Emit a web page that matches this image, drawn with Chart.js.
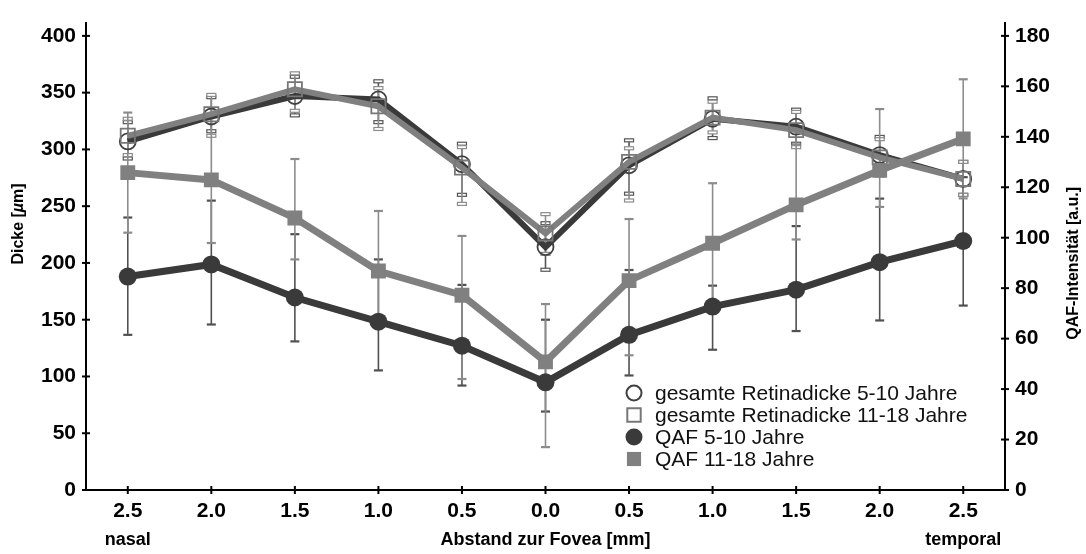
<!DOCTYPE html>
<html><head><meta charset="utf-8">
<script src="https://cdn.jsdelivr.net/npm/chart.js@4.4.1/dist/chart.umd.min.js"></script>
<style>html,body{margin:0;padding:0;background:#fff}#wrap{width:1086px;height:554px}</style>
</head><body><div id="wrap"><canvas id="c" width="1086" height="554"></canvas></div>
<script>
// Distance to fovea (nasal -> temporal)
const positions = ['2.5','2.0','1.5','1.0','0.5','0.0','0.5','1.0','1.5','2.0','2.5'];
const thicknessTicks = [0,50,100,150,200,250,300,350,400];
const intensityTicks = [0,20,40,60,80,100,120,140,160,180];

// gesamte Retinadicke 5-10 Jahre (µm, left axis)
const retina510   = [307, 329, 347, 344, 287, 214, 286, 327, 320, 295, 274];
const retina510Hi = [324, 346, 364, 360, 305, 235, 308, 345, 335, 311, 289];
const retina510Lo = [292, 316, 330, 324, 260, 194, 261, 310, 305, 279, 260];
// gesamte Retinadicke 11-18 Jahre
const retina1118   = [312, 331, 353, 338, 284, 226, 289, 328, 317, 293, 274];
const retina1118Hi = [327, 348, 367, 354, 302, 243, 301, 342, 333, 309, 289];
const retina1118Lo = [295, 312, 334, 318, 252, 208, 255, 315, 302, 277, 260];
// QAF 5-10 Jahre (a.u., right axis)
const qaf510   = [84.6, 89.4, 76.3, 66.7, 57.2, 42.7, 61.5, 72.7, 79.4, 90.3, 98.7];
const qaf510Hi = [108, 114.7, 101.4, 91.4, 81.3, 67.5, 87.2, 81, 104.6, 115.5, 124];
const qaf510Lo = [61.5, 65.6, 58.9, 47.4, 41.4, 31.1, 45.4, 55.6, 63, 67.2, 73.1];
// QAF 11-18 Jahre
const qaf1118   = [125.8, 122.9, 107.8, 86.8, 77.2, 50.8, 83.0, 97.8, 113, 126.7, 139.2];
const qaf1118Hi = [149.6, 147.9, 131.2, 110.6, 100.7, 73.7, 107.4, 121.6, 137, 151, 162.8];
const qaf1118Lo = [102, 97.9, 91.4, 68, 44, 17, 53.4, 74, 99.3, 112.2, 115.6];

const FONT = "'Liberation Sans', Arial, Helvetica, sans-serif";
const DARK = '#3a3a3a';
const GRAY = '#808080';
const Y_MAX = 411.7;
const Y2_MAX = Y_MAX * 180 / 400;

const errorBars = {
  id: 'errorBars',
  beforeDatasetsDraw(chart) {
    const ctx = chart.ctx;
    chart.data.datasets.forEach((ds, i) => {
      const meta = chart.getDatasetMeta(i);
      const ys = chart.scales[ds.yAxisID];
      ctx.save();
      ctx.strokeStyle = ds.errColor;
      ds.data.forEach((v, j) => {
        const px = meta.data[j].x;
        const top = ys.getPixelForValue(ds.hi[j]);
        const bot = ys.getPixelForValue(ds.lo[j]);
        ctx.lineWidth = 1.6;
        ctx.beginPath(); ctx.moveTo(px, top); ctx.lineTo(px, bot); ctx.stroke();
        [top, bot].forEach(py => {
          if (ds.capRect) {
            ctx.lineWidth = 1.2;
            ctx.fillStyle = '#fff';
            ctx.fillRect(px - 4.5, py - 1.5, 9, 3);
            ctx.strokeRect(px - 4.5, py - 1.5, 9, 3);
          } else {
            ctx.lineWidth = 2.2;
            ctx.beginPath(); ctx.moveTo(px - 4.5, py); ctx.lineTo(px + 4.5, py); ctx.stroke();
          }
        });
      });
      ctx.restore();
    });
  }
};

const decor = {
  id: 'decor',
  afterDraw(chart) {
    const {ctx, chartArea: ca} = chart;
    const {x, y, y2} = chart.scales;
    ctx.save();
    ctx.strokeStyle = '#000';
    ctx.lineWidth = 2;
    // crossing tick marks
    y.ticks.forEach(t => {
      const py = y.getPixelForValue(t.value);
      ctx.beginPath(); ctx.moveTo(ca.left - 4, py); ctx.lineTo(ca.left + 4, py); ctx.stroke();
    });
    y2.ticks.forEach(t => {
      const py = y2.getPixelForValue(t.value);
      ctx.beginPath(); ctx.moveTo(ca.right - 4, py); ctx.lineTo(ca.right + 4, py); ctx.stroke();
    });
    x.ticks.forEach((t, i) => {
      const px = x.getPixelForTick(i);
      ctx.beginPath(); ctx.moveTo(px, ca.bottom - 4); ctx.lineTo(px, ca.bottom + 4); ctx.stroke();
    });
    // texts
    ctx.fillStyle = '#000';
    ctx.textAlign = 'center';
    ctx.textBaseline = 'middle';
    ctx.font = 'bold 18px ' + FONT;
    const ty = ca.bottom + 50;
    ctx.fillText('Abstand zur Fovea [mm]', (ca.left + ca.right) / 2, ty);
    ctx.fillText('nasal', x.getPixelForTick(0), ty);
    ctx.fillText('temporal', x.getPixelForTick(positions.length - 1), ty);

    // left title, rotated
    ctx.save();
    ctx.translate(19, 224);
    ctx.rotate(-Math.PI / 2);
    const parts = [['Dicke [', 'bold 16px ' + FONT], ['\u00b5', 'italic bold 16px ' + FONT], ['m]', 'bold 16px ' + FONT]];
    let total = 0;
    parts.forEach(p => { ctx.font = p[1]; total += ctx.measureText(p[0]).width; });
    let cx = -total / 2;
    ctx.textAlign = 'left';
    parts.forEach(p => { ctx.font = p[1]; ctx.fillText(p[0], cx, 0); cx += ctx.measureText(p[0]).width; });
    ctx.restore();

    // right title, rotated (reads bottom to top)
    ctx.save();
    ctx.translate(1074, (ca.top + ca.bottom) / 2 + 7);
    ctx.rotate(-Math.PI / 2);
    ctx.font = 'bold 16px ' + FONT;
    ctx.fillText('QAF-Intensit\u00e4t [a.u.]', 0, 0);
    ctx.restore();

    // legend
    const lx = 634, ly0 = 393, step = 22;
    chart.data.datasets.forEach((ds, i) => {
      const yy = ly0 + i * step;
      ctx.save();
      ctx.fillStyle = ds.legendFill;
      ctx.strokeStyle = ds.pointBorderColor;
      Chart.helpers.drawPoint(ctx, {
        pointStyle: ds.pointStyle,
        radius: ds.legendRadius,
        borderWidth: ds.legendBorder,
        rotation: 0
      }, lx, yy);
      ctx.restore();
      ctx.fillStyle = '#111';
      ctx.font = '21px ' + FONT;
      ctx.textAlign = 'left';
      ctx.fillText(ds.label, 655, yy + 1);
    });
    ctx.restore();
  }
};

new Chart(document.getElementById('c'), {
  type: 'line',
  data: {
    labels: positions,
    datasets: [
      {
        label: 'gesamte Retinadicke 5-10 Jahre', data: retina510, hi: retina510Hi, lo: retina510Lo,
        yAxisID: 'y', borderColor: DARK, borderWidth: 6, pointStyle: 'circle', pointRadius: 8,
        pointBorderColor: '#404040', pointBackgroundColor: 'rgba(255,255,255,0)', pointBorderWidth: 1.8,
        errColor: '#555', capRect: true, order: 4,
        legendFill: '#fff', legendRadius: 7.5, legendBorder: 1.8
      },
      {
        label: 'gesamte Retinadicke 11-18 Jahre', data: retina1118, hi: retina1118Hi, lo: retina1118Lo,
        yAxisID: 'y', borderColor: GRAY, borderWidth: 6, pointStyle: 'rect', pointRadius: 10,
        pointBorderColor: '#777', pointBackgroundColor: 'rgba(255,255,255,0)', pointBorderWidth: 1.8,
        errColor: '#8c8c8c', capRect: true, order: 3,
        legendFill: '#fff', legendRadius: 9.5, legendBorder: 1.8
      },
      {
        label: 'QAF 5-10 Jahre', data: qaf510, hi: qaf510Hi, lo: qaf510Lo,
        yAxisID: 'y2', borderColor: DARK, borderWidth: 7, pointStyle: 'circle', pointRadius: 9,
        pointBorderColor: DARK, pointBackgroundColor: DARK, pointBorderWidth: 0,
        errColor: '#505050', capRect: false, order: 2,
        legendFill: DARK, legendRadius: 8.5, legendBorder: 0
      },
      {
        label: 'QAF 11-18 Jahre', data: qaf1118, hi: qaf1118Hi, lo: qaf1118Lo,
        yAxisID: 'y2', borderColor: GRAY, borderWidth: 7, pointStyle: 'rect', pointRadius: 10.5,
        pointBorderColor: GRAY, pointBackgroundColor: GRAY, pointBorderWidth: 0,
        errColor: '#8c8c8c', capRect: false, order: 1,
        legendFill: GRAY, legendRadius: 10, legendBorder: 0
      }
    ]
  },
  options: {
    responsive: false,
    animation: false,
    devicePixelRatio: 1,
    layout: { padding: { top: 10, left: 0, right: 0, bottom: 0 } },
    elements: { line: { tension: 0 }, point: { hoverRadius: 9 } },
    plugins: { legend: { display: false }, tooltip: { enabled: false } },
    scales: {
      x: {
        type: 'category', offset: true,
        grid: { display: false, drawTicks: false },
        border: { display: true, color: '#000', width: 2 },
        ticks: { color: '#000', font: { family: FONT, size: 21, weight: 'bold' }, padding: 9, maxRotation: 0, autoSkip: false },
        afterFit(s) { s.height = 64; }
      },
      y: {
        position: 'left', min: 0, max: Y_MAX,
        grid: { display: false, drawTicks: false },
        border: { display: true, color: '#000', width: 2 },
        ticks: { color: '#000', font: { family: FONT, size: 21, weight: 'bold' }, padding: 10, stepSize: 50 },
        afterBuildTicks(s) { s.ticks = thicknessTicks.map(v => ({ value: v })); },
        afterFit(s) { s.width = 86; }
      },
      y2: {
        position: 'right', min: 0, max: Y2_MAX,
        grid: { display: false, drawTicks: false },
        border: { display: true, color: '#000', width: 2 },
        ticks: { color: '#000', font: { family: FONT, size: 21, weight: 'bold' }, padding: 10, stepSize: 20 },
        afterBuildTicks(s) { s.ticks = intensityTicks.map(v => ({ value: v })); },
        afterFit(s) { s.width = 81; }
      }
    }
  },
  plugins: [errorBars, decor]
});
</script>
</body></html>
